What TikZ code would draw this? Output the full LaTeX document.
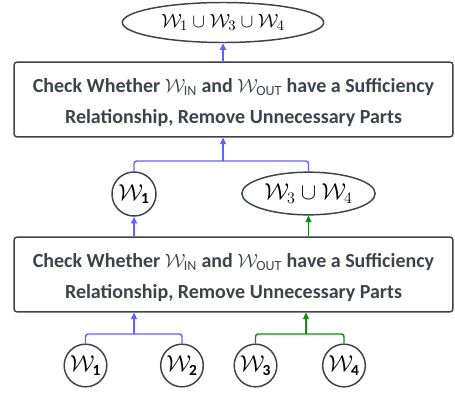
\documentclass[tikz,border=0pt]{standalone}
\usepackage{fontspec}
\setmainfont{Carlito}
\usetikzlibrary{shapes.geometric,arrows.meta}
\definecolor{edgegray}{RGB}{62,66,74}
\definecolor{bluec}{RGB}{98,98,255}
\definecolor{greenc}{RGB}{16,138,16}
\tikzset{
  stepbox/.style={draw=edgegray,line width=1.1pt,rounded corners=2pt,minimum width=329pt,minimum height=56pt,inner sep=0pt,align=center,text=edgegray,font=\fontsize{15}{23.5}\selectfont\bfseries},
  wcirc/.style={circle,draw=edgegray,line width=1.1pt,minimum size=32pt,inner sep=0pt,text=black,font=\fontsize{16.5}{18}\selectfont},
  well/.style={ellipse,draw=edgegray,line width=1.1pt,inner sep=0pt,text=black,font=\fontsize{16.5}{18}\selectfont},
  conn/.style={line width=1.1pt,rounded corners=2pt},
  arr/.style={line width=1.1pt,-{Triangle[length=5pt,width=4.5pt]}},
}
\begin{document}
\begin{tikzpicture}[x=0.75pt,y=-0.75pt]
\useasboundingbox (0,0) rectangle (455,393);
% top ellipse
\node[well,minimum width=151pt,minimum height=30pt,font=\fontsize{15.5}{17}\selectfont] (top) at (223,22.5) {$\mathcal{W}_1\cup\mathcal{W}_3\cup\mathcal{W}_4$};
% boxes
\node[stepbox] (box1) at (233.5,99.5) {\rule{0pt}{15pt}Check Whether $\mathcal{W}_{\mathrm{IN}}$ and $\mathcal{W}_{\mathrm{OUT}}$ have a Sufficiency\\Relationship, Remove Unnecessary Parts};
\node[stepbox] (box2) at (233.5,274.5) {\rule{0pt}{15pt}Check Whether $\mathcal{W}_{\mathrm{IN}}$ and $\mathcal{W}_{\mathrm{OUT}}$ have a Sufficiency\\Relationship, Remove Unnecessary Parts};
% middle
\node[wcirc,minimum size=33pt] (m1) at (134,194) {$\mathcal{W}_{\mathbf{1}}$};
\node[well,minimum width=100pt,minimum height=32pt] (m34) at (308.5,193.5) {$\mathcal{W}_3\cup\mathcal{W}_4$};
% bottom
\node[wcirc] (b1) at (85.5,365.5) {$\mathcal{W}_{\mathbf{1}}$};
\node[wcirc] (b2) at (182,365.5) {$\mathcal{W}_{\mathbf{2}}$};
\node[wcirc] (b3) at (255.5,365.5) {$\mathcal{W}_{\mathbf{3}}$};
\node[wcirc] (b4) at (344,365.5) {$\mathcal{W}_{\mathbf{4}}$};
% junctions
\coordinate (jb) at (134,334);
\coordinate (jg) at (306,334);
\coordinate (jt) at (223,161);
% bottom brackets
\draw[conn,bluec] (b1.north) |- (jb) -| (b2.north);
\draw[arr,bluec] (jb) -- (box2.south -| jb);
\draw[conn,greenc] (b3.north) |- (jg) -| (b4.north);
\draw[arr,greenc] (jg) -- (box2.south -| jg);
% box2 to middle
\draw[arr,bluec] (box2.north -| m1) -- (m1.south);
\draw[arr,greenc] (box2.north -| m34) -- (m34.south);
% middle bracket
\draw[conn,bluec] (m1.north) |- (jt) -| (m34.north);
\draw[arr,bluec] (jt) -- (box1.south -| jt);
% top
\draw[arr,bluec] (box1.north -| top) -- (top.south);
\end{tikzpicture}
\end{document}
